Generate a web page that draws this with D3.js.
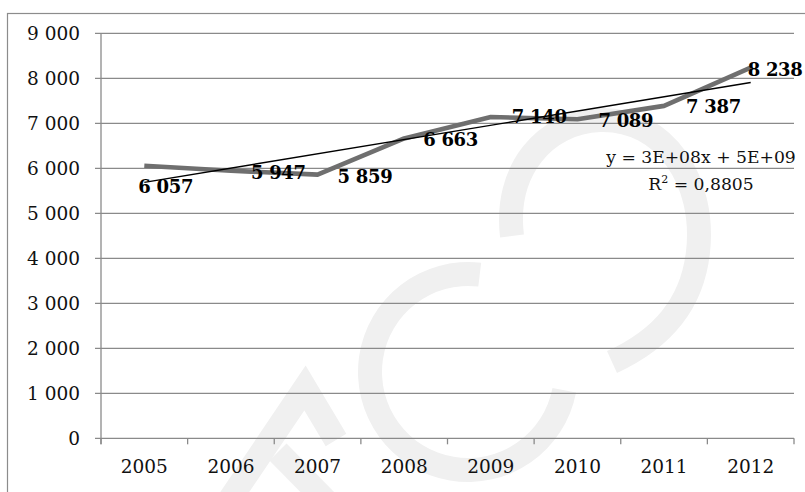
<!DOCTYPE html>
<html>
<head>
<meta charset="utf-8">
<script src="https://cdn.jsdelivr.net/npm/d3@7"></script>
<style>
  html, body { margin: 0; padding: 0; background: #fff; }
  svg { display: block; }
  text { font-family: "DejaVu Serif", "Liberation Serif", serif; }
</style>
</head>
<body>
<svg id="chart" width="805" height="492"></svg>
<script>
// Annual values
const years = ["2005", "2006", "2007", "2008", "2009", "2010", "2011", "2012"];
const values = [6057, 5947, 5859, 6663, 7140, 7089, 7387, 8238];
const yTicks = [0, 1000, 2000, 3000, 4000, 5000, 6000, 7000, 8000, 9000];
const trendEquation = "y = 3E+08x + 5E+09";

const svg = d3.select("#chart");
const W = 805, H = 492;
const plot = { left: 101, right: 794, top: 33.3, bottom: 438.3 };

const fr = d3.formatLocale({ decimal: ",", thousands: " ", grouping: [3], currency: ["", ""] });
const fmtInt = fr.format(",d");

const x = d3.scaleBand().domain(years).range([plot.left, plot.right]);
const y = d3.scaleLinear().domain([0, 9000]).range([plot.bottom, plot.top]);
const cx = d => x(d) + x.bandwidth() / 2;

// background
svg.append("rect").attr("width", W).attr("height", H).attr("fill", "#fff");

// faint logo watermark behind the plot
const wm = svg.append("g").attr("fill", "none").attr("stroke", "#f0f0f0")
  .attr("stroke-width", 24).attr("stroke-linecap", "butt");
// A
wm.append("path").attr("d", "M 226 505 L 305 388 L 336 440").attr("stroke-linejoin", "miter");
wm.append("path").attr("d", "M 278 452 L 330 505");
// C
const cArc = d3.arc().innerRadius(86).outerRadius(110)
  .startAngle(0.12).endAngle(-Math.PI * 1.44);
wm.append("path").attr("transform", "translate(468,372)").attr("d", cArc())
  .attr("fill", "#f0f0f0").attr("stroke", "none");
// S
wm.append("path").attr("d", "M 512 236 C 504 170, 545 122, 600 120 C 665 118, 706 182, 698 252 C 692 306, 660 340, 612 362");

// outer frame
svg.append("rect").attr("x", 7.5).attr("y", 13.5).attr("width", W).attr("height", H)
  .attr("fill", "none").attr("stroke", "#8c8c8c").attr("stroke-width", 1.2);

// horizontal gridlines with left tick stubs
const grid = svg.append("g").attr("stroke", "#8a8a8a").attr("stroke-width", 1.3);
grid.selectAll("line").data(yTicks).join("line")
  .attr("x1", plot.left - 6).attr("x2", plot.right)
  .attr("y1", d => y(d)).attr("y2", d => y(d));

// vertical axis line
svg.append("line").attr("x1", plot.left).attr("x2", plot.left)
  .attr("y1", plot.top).attr("y2", plot.bottom + 6)
  .attr("stroke", "#8a8a8a").attr("stroke-width", 1.3);

// category boundary ticks below the x axis
const bounds = years.map(d => x(d)).concat([plot.right]);
svg.append("g").attr("stroke", "#8a8a8a").attr("stroke-width", 1.3)
  .selectAll("line").data(bounds).join("line")
  .attr("x1", d => d).attr("x2", d => d)
  .attr("y1", plot.bottom).attr("y2", plot.bottom + 6);

// y tick labels
svg.append("g").selectAll("text").data(yTicks).join("text")
  .attr("x", 80).attr("y", d => y(d)).attr("dy", "0.36em")
  .attr("text-anchor", "end").attr("font-size", 18.5).attr("fill", "#111")
  .text(d => fmtInt(d));

// x tick labels
svg.append("g").selectAll("text").data(years).join("text")
  .attr("x", d => cx(d)).attr("y", 466.5).attr("dy", "0.36em")
  .attr("text-anchor", "middle").attr("font-size", 18.5).attr("fill", "#111")
  .text(d => d);

const pts = years.map((d, i) => ({ year: d, v: values[i], i }));

// data line
svg.append("path").datum(pts)
  .attr("fill", "none").attr("stroke", "#6f6f6f").attr("stroke-width", 4.6)
  .attr("stroke-linejoin", "round")
  .attr("d", d3.line().x(p => cx(p.year)).y(p => y(p.v)));

// least-squares linear trend over the category index
const n = values.length;
const xs = values.map((_, i) => i + 1);
const mx = d3.mean(xs), my = d3.mean(values);
const sxy = d3.sum(xs, (xi, i) => (xi - mx) * (values[i] - my));
const sxx = d3.sum(xs, xi => (xi - mx) ** 2);
const slope = sxy / sxx, intercept = my - slope * mx;
const sst = d3.sum(values, v => (v - my) ** 2);
const r2 = (slope * sxy) / sst;
const trend = i => intercept + slope * (i + 1);

svg.append("line")
  .attr("x1", cx(years[0])).attr("y1", y(trend(0)))
  .attr("x2", cx(years[n - 1])).attr("y2", y(trend(n - 1)))
  .attr("stroke", "#000").attr("stroke-width", 1.4);

// value labels: offset of the label's left edge / vertical centre from each point
const labelOffsets = [[-6, 21], [20, 1.5], [20, 1.5], [19, 1], [21, 0], [21, 1.5], [22, 1], [-3, 2]];
svg.append("g").selectAll("text").data(pts).join("text")
  .attr("x", p => cx(p.year) + labelOffsets[p.i][0])
  .attr("y", p => y(p.v) + labelOffsets[p.i][1]).attr("dy", "0.36em")
  .attr("font-size", 18).attr("font-weight", "bold").attr("fill", "#000")
  .attr("letter-spacing", -0.3)
  .text(p => fmtInt(p.v));

// trend equation and R²
const eq = svg.append("g").attr("font-size", 17.2).attr("fill", "#111").attr("text-anchor", "middle");
eq.append("text").attr("x", 701).attr("y", 163).text(trendEquation);
const r2Text = eq.append("text").attr("x", 701).attr("y", 190);
r2Text.append("tspan").text("R");
r2Text.append("tspan").attr("font-size", 11).attr("dy", -7).text("2");
r2Text.append("tspan").attr("dy", 7).text(" = " + fr.format(".4f")(r2));
</script>
</body>
</html>
